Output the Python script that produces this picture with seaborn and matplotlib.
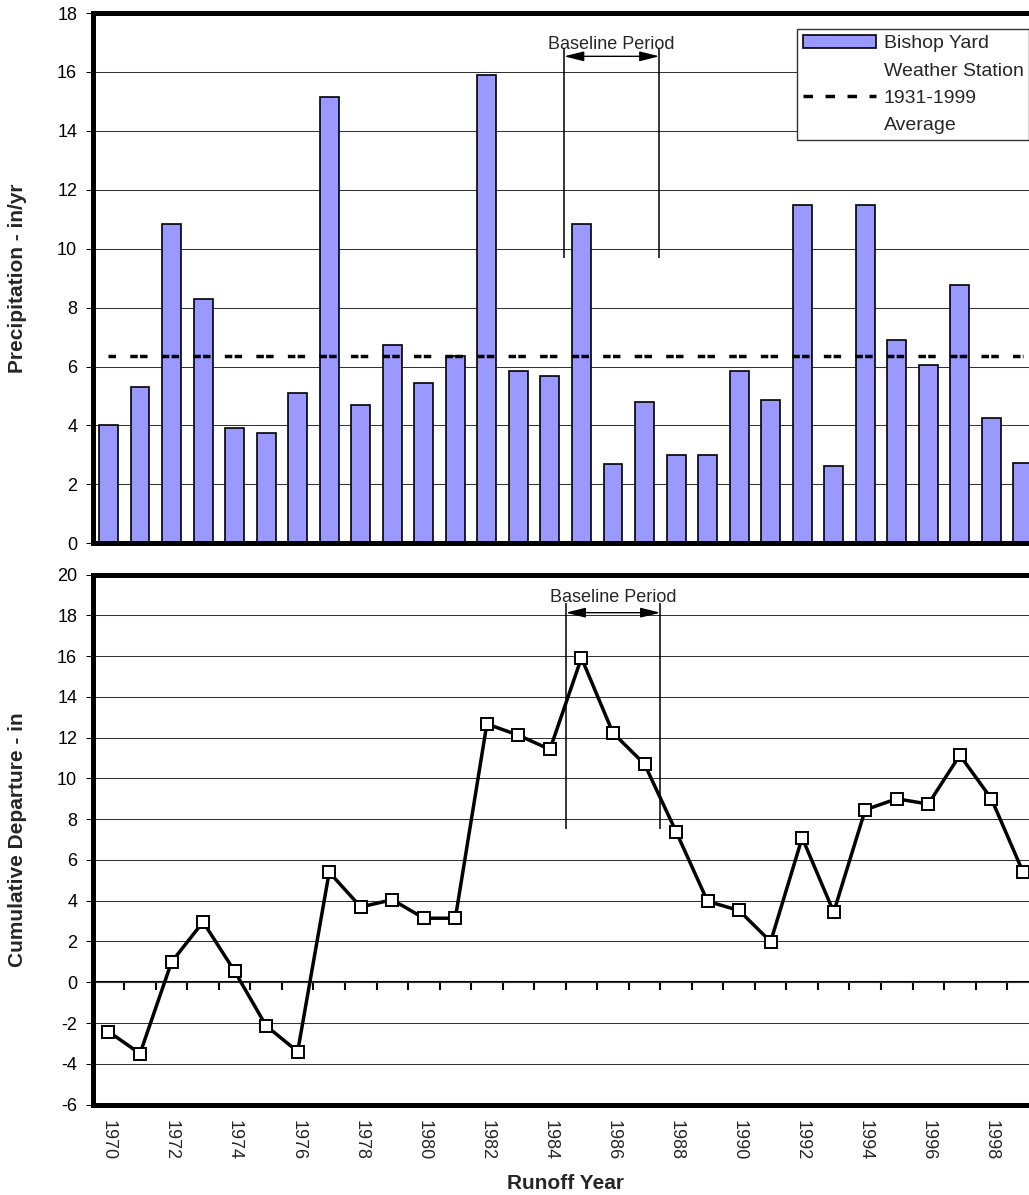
import numpy as np
import pandas as pd
import seaborn as sns
import matplotlib.pyplot as plt
from matplotlib.patches import Patch
from matplotlib.lines import Line2D

# datos
years = [str(y) for y in range(1970, 2000)]
precip = [4.00, 5.30, 10.85, 8.28, 3.92, 3.74, 5.10, 15.15, 4.68, 6.73,
          5.43, 6.36, 15.89, 5.85, 5.68, 10.85, 2.68, 4.80, 2.99, 2.99,
          5.85, 4.86, 11.47, 2.62, 11.47, 6.91, 6.05, 8.78, 4.24, 2.73]
average = 6.36
departure = [-2.42, -3.50, 0.99, 2.96, 0.54, -2.14, -3.40, 5.40, 3.69, 4.05,
             3.14, 3.14, 12.67, 12.12, 11.42, 15.91, 12.23, 10.70, 7.39, 3.97,
             3.52, 1.99, 7.09, 3.44, 8.46, 9.00, 8.74, 11.14, 9.00, 5.42]
baselineStart = 14.5   # limite entre 1984 y 1985
baselineEnd = 17.5     # limite entre 1987 y 1988

barColor = "#9999FF"
n = len(years)

dfPrecip = pd.DataFrame({'year': years, 'precip': precip})
dfDep = pd.DataFrame({'pos': np.arange(n), 'departure': departure})

sns.set_style("white")
plt.rcParams['font.family'] = ['Liberation Sans', 'DejaVu Sans']
plt.rcParams['axes.unicode_minus'] = False

fig = plt.figure(figsize=(10.29, 11.95), dpi=100)
ax1 = fig.add_axes([0.0901, 0.5454, 0.9193, 0.4437])
ax2 = fig.add_axes([0.0901, 0.0757, 0.9193, 0.4435])

# Grafica de barras (precipitacion)
sns.barplot(data=dfPrecip, x='year', y='precip', ax=ax1, color=barColor,
            saturation=1, width=0.6, edgecolor='black', linewidth=1.2, zorder=2)
ax1.plot(dfDep['pos'], np.full(n, average), color='black', lw=2.5,
         linestyle=(0, (2.16, 4.1, 2.16, 0.66)), zorder=3)
ax1.set_ylim(0, 18)
ax1.set_yticks(range(0, 19, 2))
ax1.set_xlim(-0.5, n - 0.5)
ax1.tick_params(axis='x', bottom=False, labelbottom=False)
ax1.set_xlabel('')
ax1.set_ylabel('Precipitation - in/yr', fontsize=15, fontweight='bold')
ax1.yaxis.set_label_coords(-0.069, 0.5)

ax1.vlines([14.45, 17.47], 9.69, 16.8, color='black', lw=1.1, zorder=4)
ax1.annotate('', xy=(14.45, 16.53), xytext=(17.47, 16.53),
             arrowprops=dict(arrowstyle='<|-|>,head_length=0.6,head_width=0.15',
                             color='black', lw=1, shrinkA=0, shrinkB=0,
                             mutation_scale=20))
ax1.text(15.96, 16.78, 'Baseline Period', ha='center', va='baseline', fontsize=13)

handles = [Patch(facecolor=barColor, edgecolor='black', linewidth=1.2),
           Line2D([], [], lw=0),
           Line2D([], [], color='black', lw=2.5, linestyle=(0, (2.74, 3.6))),
           Line2D([], [], lw=0)]
labels = ['Bishop Yard', 'Weather Station', '1931-1999', 'Average']
leg = ax1.legend(handles, labels, loc='upper left',
                 bbox_to_anchor=(797 / 1029, 1 - 29 / 1195),
                 bbox_transform=fig.transFigure, fontsize=14, frameon=True,
                 fancybox=False, framealpha=1, edgecolor='#333333',
                 borderpad=0.3, handlelength=3.75, handletextpad=0.4,
                 labelspacing=0.5, borderaxespad=0)
leg.get_frame().set_linewidth(1)

# Grafica de linea (desviacion acumulada)
sns.lineplot(data=dfDep, x='pos', y='departure', ax=ax2, color='black',
             linewidth=2.5, marker='s', markersize=8, markerfacecolor='white',
             markeredgecolor='black', markeredgewidth=1.4, zorder=3)
ax2.set_ylim(-6, 20)
ax2.set_yticks(range(-6, 21, 2))
ax2.set_xlim(-0.5, n - 0.5)
ax2.set_xticks(range(0, n, 2))
ax2.set_xticklabels(years[::2], rotation=-90, fontsize=13)
ax2.tick_params(axis='x', length=0, pad=11)
ax2.set_xlabel('Runoff Year', fontsize=15, fontweight='bold')
ax2.xaxis.set_label_coords(0.5, -0.131)
ax2.set_ylabel('Cumulative Departure - in', fontsize=15, fontweight='bold')
ax2.yaxis.set_label_coords(-0.069, 0.5)

# eje de categorias cruzando en cero
sec = ax2.secondary_xaxis(0, transform=ax2.transData)
sec.set_xticks(np.arange(0.5, n, 1))
sec.tick_params(axis='x', direction='out', length=6, width=1.5,
                labelbottom=False, labeltop=False, colors='black')
for s in sec.spines.values():
    s.set_linewidth(1.5)
    s.set_color('black')

ax2.vlines([baselineStart, baselineEnd], 7.52, 18.6, color='black', lw=1.1, zorder=4)
ax2.annotate('', xy=(baselineStart, 18.13), xytext=(baselineEnd, 18.13),
             arrowprops=dict(arrowstyle='<|-|>,head_length=0.6,head_width=0.15',
                             color='black', lw=1, shrinkA=0, shrinkB=0,
                             mutation_scale=20))
ax2.text((baselineStart + baselineEnd) / 2, 18.65, 'Baseline Period',
         ha='center', va='baseline', fontsize=13)

for ax in (ax1, ax2):
    ax.yaxis.grid(True, color='#333333', lw=0.75)
    ax.set_axisbelow(True)
    ax.tick_params(axis='y', left=True, direction='out', length=4.7, width=0.75,
                   pad=6.5, labelsize=13, colors='black')
    for s in ax.spines.values():
        s.set_linewidth(3.6)
        s.set_color('black')

fig.savefig('out.png', dpi=100)
